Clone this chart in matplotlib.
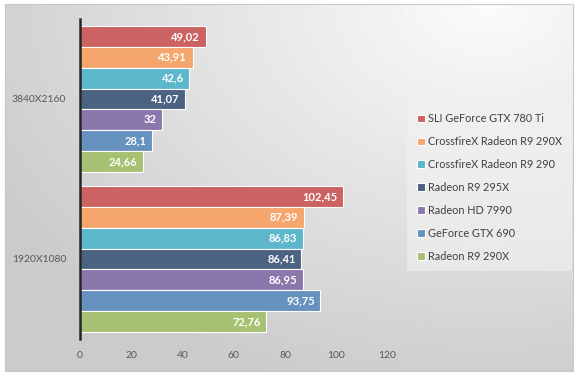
import numpy as np
import matplotlib
matplotlib.use('Agg')
import matplotlib.pyplot as plt
from matplotlib.patches import Rectangle

plt.rcParams['font.family'] = ['Lato', 'DejaVu Sans']

resolutions = ['3840X2160', '1920X1080']
cards = ['SLI GeForce GTX 780 Ti', 'CrossfireX Radeon R9 290X', 'CrossfireX Radeon R9 290',
         'Radeon R9 295X', 'Radeon HD 7990', 'GeForce GTX 690', 'Radeon R9 290X']
fps_4k = [49.02, 43.91, 42.6, 41.07, 32, 28.1, 24.66]
fps_1080 = [102.45, 87.39, 86.83, 86.41, 86.95, 93.75, 72.76]
labels_4k = ['49,02', '43,91', '42,6', '41,07', '32', '28,1', '24,66']
labels_1080 = ['102,45', '87,39', '86,83', '86,41', '86,95', '93,75', '72,76']
colors = ['#CD6262', '#F4A66C', '#5CB7CB', '#4B6283', '#8C77AD', '#6791BF', '#A7C172']

W, H = 580, 377
fig = plt.figure(figsize=(W / 100, H / 100), dpi=100)
fig.patch.set_facecolor('white')

# background of the chart area: radial-ish grey gradient, light at top right
bg = fig.add_axes([5 / W, 1 - 371 / H, 568 / W, 367 / H], zorder=0)
gx, gy = np.meshgrid(np.linspace(0, 1, 300), np.linspace(0, 1, 200))
d = np.sqrt(((gx - 0.85) / 1.0) ** 2 + ((gy - 0.0) / 1.1) ** 2)
shade = 0.985 - 0.19 * np.clip(d, 0, 1)
bg.imshow(shade, cmap='gray', vmin=0, vmax=1, aspect='auto', extent=[0, 1, 1, 0])
bg.set_axis_off()
fig.add_artist(Rectangle((5 / W, 1 - 371 / H), 568 / W, 367 / H, transform=fig.transFigure,
                         fill=False, edgecolor='#c8c8c8', linewidth=0.8, zorder=1))

ax = fig.add_axes([80 / W, 1 - 339 / H, 307.5 / W, 320 / H], zorder=2)
ax.patch.set_alpha(0)

n = len(cards)
h = 0.912 / n
centers = [1, 0]
for vals, labs, c in [(fps_4k, labels_4k, centers[0]), (fps_1080, labels_1080, centers[1])]:
    for i in range(n):
        y = c + (n - 1) / 2 * h - i * h
        ax.barh(y, vals[i], height=h, color=colors[i], edgecolor='white', linewidth=0.8,
                label=cards[i] if c == 1 else None)
        ax.annotate(labs[i], (vals[i], y), xytext=(-4, 0), textcoords='offset points',
                    ha='right', va='center', color='white', fontsize=8, fontweight='bold')

ax.set_xlim(0, 120)
ax.set_ylim(-0.5, 1.5)
ax.set_xticks(range(0, 121, 20))
ax.set_yticks(centers)
ax.set_yticklabels(resolutions)
ax.tick_params(axis='both', length=0, colors='#595959', labelsize=7.5)
ax.tick_params(axis='x', pad=9)
ax.tick_params(axis='y', pad=10)
for s in ['top', 'right', 'bottom']:
    ax.spines[s].set_visible(False)
ax.spines['left'].set_color('#262626')
ax.spines['left'].set_linewidth(1.8)

handles, labels = ax.get_legend_handles_labels()
leg = fig.legend(handles, labels, loc='upper left', bbox_to_anchor=(402 / W, 1 - 98 / H),
                 fontsize=7.8, frameon=True, handlelength=0.7, handleheight=0.7,
                 handletextpad=0.3, labelspacing=1.1, borderpad=0.9, labelcolor='#404040')
leg.get_frame().set_facecolor('#f2f2f2')
leg.get_frame().set_alpha(0.6)
leg.get_frame().set_edgecolor('none')
leg.set_zorder(3)

fig.savefig('out.png', dpi=100)
